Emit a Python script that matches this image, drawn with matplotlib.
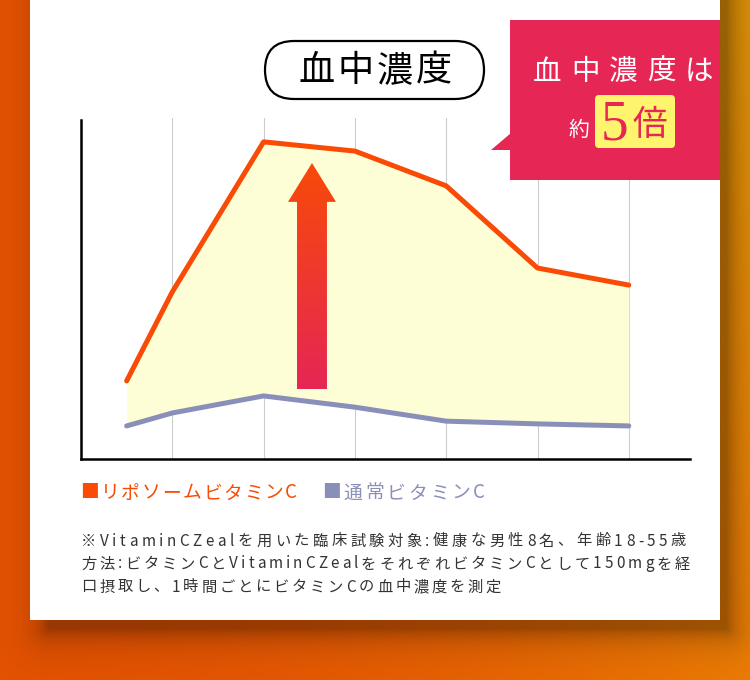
import numpy as np
import matplotlib
matplotlib.use('Agg')
import matplotlib.pyplot as plt
from matplotlib.patches import FancyBboxPatch, Rectangle, Polygon
from matplotlib.font_manager import FontProperties, findfont, get_font

CJK = ['Noto Sans CJK JP', 'DejaVu Sans']
plt.rcParams['font.family'] = CJK

# ---------------- data ----------------
hours = [0.5, 1, 2, 3, 4, 5, 6]
liposome = [22.9, 49.0, 93.0, 90.3, 80.1, 56.0, 51.0]
normal = [9.7, 13.5, 18.5, 15.2, 11.1, 10.3, 9.7]
grid_hours = [1, 2, 3, 4, 5, 6]
title_text = '血中濃度'
callout_line1 = '血中濃度は'
callout_pre = '約'
callout_num = '5'
callout_unit = '倍'
legend_labels = ['■リポソームビタミンC', '■通常ビタミンC']
footnote_lines = [
    '※VitaminCZealを用いた臨床試験対象:健康な男性8名、年齢18-55歳',
    '方法:ビタミンCとVitaminCZealをそれぞれビタミンCとして150mgを経',
    '口摂取し、1時間ごとにビタミンCの血中濃度を測定',
]

# ---------------- style ----------------
ORANGE = '#F94B05'
PURPLE = '#8A8FBA'
FILL = '#FEFED6'
PINK = '#E62654'
YELLOW = '#FFF46E'
TEXT = '#333333'

W, H = 750, 680
DPI = 100
fig = plt.figure(figsize=(W / DPI, H / DPI), dpi=DPI)

_font = get_font(findfont(FontProperties(family='Noto Sans CJK JP')))


def advances(s, size):
    _font.set_size(size, DPI)
    return [_font.load_char(ord(c)).linearHoriAdvance / 65536 for c in s]


def spread_text(axis, x0, x1, y, s, size, **kw):
    """Draw string s with letter spacing so that it spans x0..x1 (pixel coords)."""
    adv = advances(s, size)
    n = len(s)
    gap = (x1 - x0 - sum(adv)) / (n - 1) if n > 1 else 0
    x = x0
    for c, a in zip(s, adv):
        axis.text(x + a / 2, y, c, fontsize=size, ha='center', va='center', **kw)
        x += a + gap


# ---------------- background layer ----------------
bg = fig.add_axes([0, 0, 1, 1], zorder=0)
bg.set_xlim(0, W)
bg.set_ylim(H, 0)
bg.axis('off')

yy, xx = np.mgrid[0:H, 0:W].astype(float)
t = (xx / W) ** 2.0
left_c = np.array([228, 82, 2]) / 255
right_top = np.array([226, 150, 8]) / 255
right_bot = np.array([236, 124, 4]) / 255
vy = (yy / H)[..., None]
right_c = right_top * (1 - vy) + right_bot * vy
img = left_c * (1 - t[..., None]) + right_c * t[..., None]
# card shadow (offset right / down)
sx0, sx1, sy1 = 48, 726, 628
dx = np.maximum(np.maximum(sx0 - xx, xx - sx1), 0)
dy = np.maximum(yy - sy1, 0)
d = np.sqrt(dx ** 2 + dy ** 2)
inside = (xx >= sx0) & (xx <= sx1) & (yy <= sy1)
shade = 1 - 0.33 * np.exp(-d / 15.0)
shade[inside] = 0.67
img = img * shade[..., None]
bg.imshow(np.clip(img, 0, 1), extent=(0, W, H, 0), aspect='auto', zorder=0)

bg.add_patch(Rectangle((30, -5), 690, 625, facecolor='white', edgecolor='none', zorder=1))

# title pill
bg.add_patch(FancyBboxPatch((265, 41), 219, 58,
                            boxstyle='round,pad=0,rounding_size=29',
                            facecolor='white', edgecolor='black', lw=1.6, zorder=2))
spread_text(bg, 299, 452, 71, title_text, 26, color='black', zorder=3)

# legend
spread_text(bg, 80, 297, 493, legend_labels[0], 13.5, color=ORANGE, zorder=3)
spread_text(bg, 322, 485, 493, legend_labels[1], 13.5, color=PURPLE, zorder=3)

# footnote
foot_ends = [686, 690, 501]
for i, line in enumerate(footnote_lines):
    spread_text(bg, 81, foot_ends[i], 541 + i * 23, line, 11, color=TEXT, zorder=3)

# ---------------- chart layer ----------------
ax = fig.add_axes([81 / W, (H - 459) / H, (690 - 81) / W, (459 - 118) / H], zorder=1)
ax.patch.set_alpha(0)
for s in ['top', 'right']:
    ax.spines[s].set_visible(False)
for s in ['left', 'bottom']:
    ax.spines[s].set_linewidth(1.8)
    ax.spines[s].set_color('black')
ax.spines['left'].set_bounds(0, 99.4)
ax.set_xticks(grid_hours)
ax.set_xticklabels([])
ax.set_yticks([])
ax.tick_params(length=0)
ax.grid(axis='x', color='#CCCCCC', lw=0.8)
ax.set_axisbelow(True)

ax.fill_between(hours, normal, liposome, color=FILL, lw=0, zorder=2)
ax.plot(hours, normal, color=PURPLE, lw=3.6, solid_capstyle='round', solid_joinstyle='round',
        zorder=3, clip_on=False)
ax.plot(hours, liposome, color=ORANGE, lw=3.6, solid_capstyle='round', solid_joinstyle='round',
        zorder=4, clip_on=False)

# gradient arrow
ax_c, shaft_hw, head_hw = 2.53, 0.164, 0.263
tip_y, head_y, base_y = 86.8, 75.4, 20.5
arrow = Polygon([(ax_c - shaft_hw, base_y), (ax_c - shaft_hw, head_y), (ax_c - head_hw, head_y),
                 (ax_c, tip_y), (ax_c + head_hw, head_y), (ax_c + shaft_hw, head_y),
                 (ax_c + shaft_hw, base_y)], closed=True, facecolor='none', edgecolor='none',
                transform=ax.transData)
ax.add_patch(arrow)
top_c = np.array([248, 74, 8]) / 255
bot_c = np.array([229, 38, 85]) / 255
g = np.linspace(0, 1, 256)[:, None, None]
grad = np.repeat(top_c * (1 - g) + bot_c * g, 2, axis=1)
im = ax.imshow(grad, extent=(ax_c - head_hw, ax_c + head_hw, base_y, tip_y), origin='upper',
               aspect='auto', zorder=5)
im.set_clip_path(arrow)
ax.set_xlim(0, 609 / 91.3)
ax.set_ylim(0, 100)

# ---------------- overlay layer (callout) ----------------
ov = fig.add_axes([0, 0, 1, 1], zorder=2)
ov.set_xlim(0, W)
ov.set_ylim(H, 0)
ov.axis('off')
ov.patch.set_alpha(0)
ov.add_patch(Rectangle((510, 20), 210, 160, facecolor=PINK, edgecolor='none'))
ov.add_patch(Polygon([(511, 133), (491, 150), (511, 150)], closed=True, facecolor=PINK, edgecolor='none'))
spread_text(ov, 533, 713, 72, callout_line1, 20.5, color='white')
ov.text(579, 130, callout_pre, fontsize=15, color='white', ha='center', va='center')
ov.add_patch(FancyBboxPatch((595, 95), 80, 53, boxstyle='round,pad=0,rounding_size=4',
                            facecolor=YELLOW, edgecolor='none'))
ov.text(614, 125, callout_num, fontsize=40, color=PINK, ha='center', va='center',
        family=['Liberation Serif', 'DejaVu Serif'])
ov.text(650, 125, callout_unit, fontsize=25, color=PINK, ha='center', va='center')

fig.savefig('out.png', dpi=DPI)
